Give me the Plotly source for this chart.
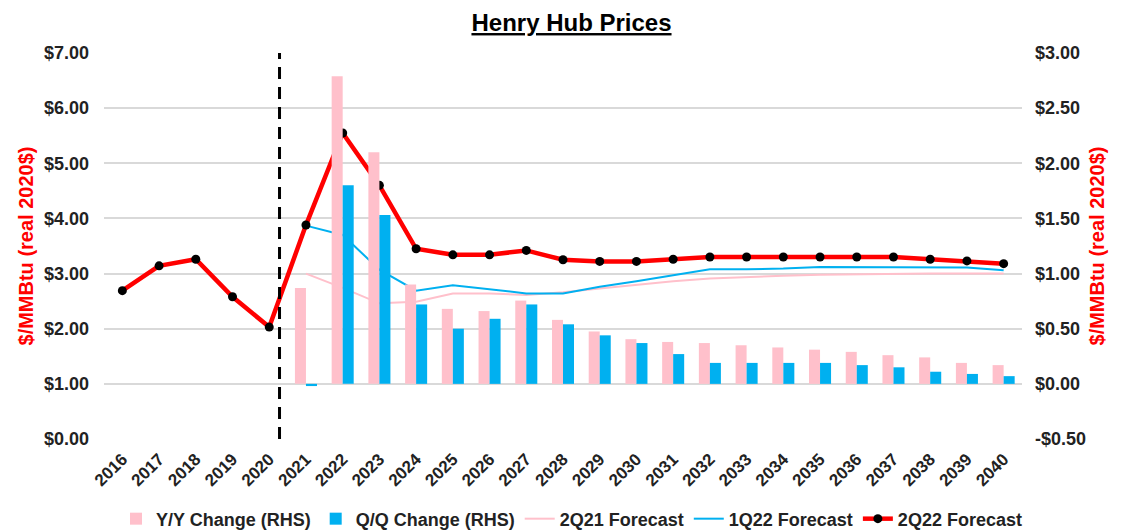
import plotly.graph_objects as go

YEARS = list(range(2016, 2041))
FCST_YEARS = list(range(2021, 2041))

# 2Q22 forecast, $/MMBtu (real 2020$), left axis
PRICE_2Q22 = [2.69, 3.14, 3.26, 2.58, 2.03, 3.88, 5.55, 4.60, 3.45, 3.34,
              3.34, 3.42, 3.25, 3.22, 3.22, 3.26, 3.30, 3.30, 3.30, 3.30,
              3.30, 3.30, 3.26, 3.23, 3.18]
# 1Q22 forecast, from 2021
PRICE_1Q22 = [3.87, 3.70, 3.07, 2.69, 2.79, 2.72, 2.64, 2.64, 2.76, 2.86,
              2.97, 3.08, 3.08, 3.09, 3.12, 3.12, 3.12, 3.12, 3.11, 3.06]
# 2Q21 forecast, from 2021
PRICE_2Q21 = [3.00, 2.74, 2.46, 2.49, 2.64, 2.64, 2.61, 2.66, 2.73, 2.80,
              2.86, 2.91, 2.94, 2.96, 2.98, 2.99, 3.00, 3.00, 3.00, 3.00]

# changes vs prior forecasts, right axis
YY_CHANGE = [0.87, 2.79, 2.10, 0.90, 0.68, 0.66, 0.755, 0.58, 0.475, 0.405,
             0.38, 0.37, 0.35, 0.33, 0.31, 0.29, 0.26, 0.24, 0.19, 0.17]
QQ_CHANGE = [-0.02, 1.80, 1.53, 0.72, 0.50, 0.59, 0.72, 0.54, 0.44, 0.37,
             0.27, 0.19, 0.19, 0.19, 0.19, 0.17, 0.15, 0.11, 0.09, 0.07]

LEFT_TICKS = [0, 1, 2, 3, 4, 5, 6, 7]
RIGHT_TICKS = [-0.5, 0, 0.5, 1.0, 1.5, 2.0, 2.5, 3.0]

FONT = "Liberation Sans, Arial, sans-serif"
PINK = '#FFC0CB'
BLUE = '#00B0F0'
RED = '#FF0000'


def money(v):
    return ('-$%.2f' % -v) if v < 0 else ('$%.2f' % v)


fig = go.Figure()

fig.add_trace(go.Bar(
    x=FCST_YEARS, y=YY_CHANGE, name="Y/Y Change (RHS)",
    marker={'color': PINK, 'line': {'width': 0}}, yaxis='y2',
))
fig.add_trace(go.Bar(
    x=FCST_YEARS, y=QQ_CHANGE, name="Q/Q Change (RHS)",
    marker={'color': BLUE, 'line': {'width': 0}}, yaxis='y2',
))
fig.add_trace(go.Scatter(
    x=FCST_YEARS, y=PRICE_2Q21, name="2Q21 Forecast", mode='lines',
    line={'color': PINK, 'width': 2},
))
fig.add_trace(go.Scatter(
    x=FCST_YEARS, y=PRICE_1Q22, name="1Q22 Forecast", mode='lines',
    line={'color': BLUE, 'width': 2},
))
fig.add_trace(go.Scatter(
    x=YEARS, y=PRICE_2Q22, name="2Q22 Forecast", mode='lines+markers',
    line={'color': RED, 'width': 4.5},
    marker={'color': '#000', 'size': 9},
))

# history / forecast divider
fig.add_shape(type='line', xref='x', yref='paper',
              x0=2020.28, x1=2020.28, y0=0, y1=1, layer='above',
              line={'color': '#000', 'width': 3, 'dash': '12px,8px'})

axis_title = dict(text="<b>$/MMBtu (real 2020$)</b>",
                  font={'color': RED, 'size': 20, 'family': FONT})

# the page body adds an 8px offset, so the figure is sized to fit inside
fig.update_layout(
    width=1127, height=523,
    margin=dict(l=96, r=113, t=45, b=92),
    paper_bgcolor='white', plot_bgcolor='white',
    font={'family': FONT, 'color': '#222', 'size': 14},
    title=dict(text="<b><u>Henry Hub Prices</u></b>", x=0.5, xanchor='center',
               y=0.972, yanchor='middle', font={'size': 24, 'color': '#000'}),
    barmode='group', bargap=0.4, bargroupgap=0,
    xaxis=dict(range=[2015.5, 2040.5], tickmode='array', tickvals=YEARS,
               ticktext=['<b>%d</b>' % y for y in YEARS], tickangle=-45,
               showgrid=False, zeroline=False, ticks='', automargin=False,
               ticklabelstandoff=6, tickfont={'size': 17}),
    yaxis=dict(range=[0, 7], tickmode='array', tickvals=LEFT_TICKS,
               ticktext=['<b>%s</b>' % money(v) for v in LEFT_TICKS],
               showgrid=True, gridcolor='#d9d9d9', gridwidth=2,
               zeroline=False, title=dict(axis_title, standoff=4),
               ticklabelstandoff=14,
               automargin=False, tickfont={'size': 18}),
    yaxis2=dict(range=[-0.5, 3.0], overlaying='y', side='right',
                tickmode='array', tickvals=RIGHT_TICKS,
                ticktext=['<b>%s</b>' % money(v) for v in RIGHT_TICKS],
                showgrid=False, zeroline=False,
                title=dict(axis_title, standoff=4),
                ticklabelstandoff=12,
                automargin=False, tickfont={'size': 18}),
    legend=dict(orientation='h', x=0.5, xanchor='center', xref='container',
                y=0.023, yanchor='middle', yref='container',
                font={'size': 18}, traceorder='normal', itemwidth=30),
    showlegend=True,
)
for tr in fig.data:
    tr.name = '<b>%s</b>' % tr.name

fig.write_html("out.html")
